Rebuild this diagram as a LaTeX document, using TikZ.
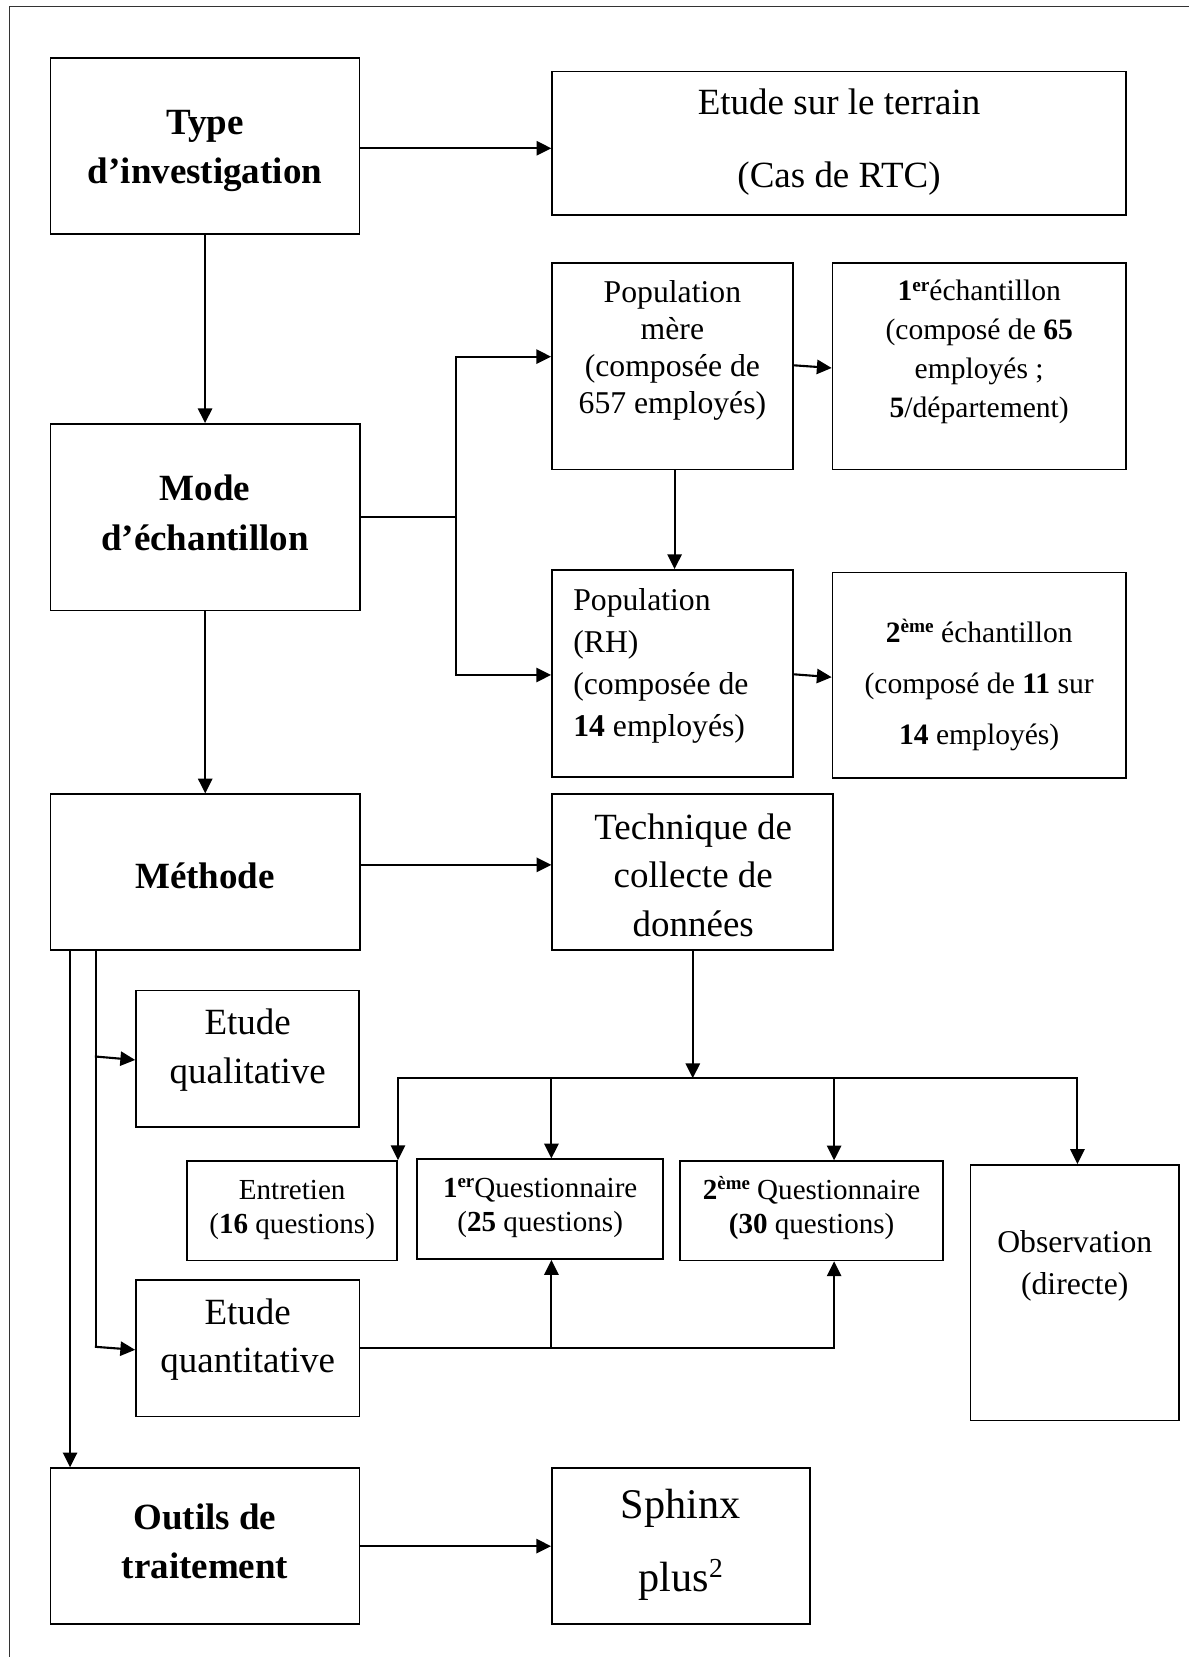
\documentclass[tikz,border=0pt]{standalone}
\usepackage{fontspec}
\usepackage{graphicx}
\setmainfont{Liberation Serif}
\usetikzlibrary{arrows.meta,fit,calc}

% line strut: 0.7em above, 0.3em below the baseline
\newcommand\st{\rule[-0.3em]{0pt}{1em}}
\newcommand\fs[2]{\fontsize{#1}{#2}\selectfont}
% raised, reduced ordinal suffix
\newcommand\upr[1]{\raisebox{0.33em}{\scalebox{0.65}{#1}}}

\begin{document}
\begin{tikzpicture}[x=1pt,y=-1pt,
  box/.style={draw, line width=1.6pt, inner sep=0pt, rectangle},
  txt/.style={inner sep=0pt, align=center, text=black},
  ln/.style={line width=2pt, line cap=rect},
  arr/.style={line width=2pt, line cap=rect, -{Triangle[length=14pt,width=13.5pt]}},
]
\useasboundingbox (0,0) rectangle (1125,1568);

% outer frame (top and left edges)
\draw[line width=1.5pt, black!80] (8.8,1568) -- (8.8,6.3) -- (1125,6.3);

% ---------- boxes ----------
\node[box, fit={(47.8,54.6) (340.3,221.7)}] (type) {};
\node[box, fit={(522.5,67.8) (1065.4,203.4)}] (terrain) {};
\node[box, fit={(47.8,401.2) (340.6,577.8)}] (mode) {};
\node[box, fit={(522.3,249.1) (750.6,444.4)}] (popm) {};
\node[box, fit={(787.8,249.1) (1065.4,444.4)}] (ech1) {};
\node[box, fit={(522.3,539.3) (750.6,735.0)}] (poprh) {};
\node[box, fit={(787.8,541.8) (1065.4,736.5)}] (ech2) {};
\node[box, fit={(47.8,751.6) (340.4,898.9)}] (meth) {};
\node[box, fit={(522.6,751.3) (788.5,898.9)}] (tech) {};
\node[box, fit={(128.7,937.3) (340.0,1066.6)}] (qual) {};
\node[box, fit={(177.2,1098.6) (375.8,1192.8)}] (entr) {};
\node[box, fit={(394.9,1097.0) (627.6,1191.5)}] (q1) {};
\node[box, fit={(643.6,1098.8) (892.3,1192.8)}] (q2) {};
\node[box, fit={(918.5,1102.3) (1115.4,1344.2)}] (obs) {};
\node[box, fit={(128.7,1211.1) (340.3,1340.4)}] (quant) {};
\node[box, fit={(47.8,1389.3) (340.3,1536.9)}] (outils) {};
\node[box, fit={(522.3,1389.3) (766.5,1536.9)}] (sphinx) {};

% ---------- texts ----------
\node[txt, font=\bfseries\fs{35}{45.7}] (typeT) at (194,143.55)
  {\st Type\\\st d’investigation};
\node[txt, font=\fs{35}{68.8}] (terrainT) at (794,136.2)
  {\st Etude sur le terrain\\\st (Cas de RTC)};
\node[txt, font=\bfseries\fs{35}{47}] (modeT) at (194,490.5)
  {\st Mode\\\st d’échantillon};
\node[txt, font=\fs{30}{35.03}] (popmT) at (636.3,332.95)
  {\st Population\\\st mère\\\st (composée de\\\st 657 employés)};
\node[txt, font=\fs{28}{36.77}] (ech1T) at (926.6,334.25)
  {\st\textbf{1}\upr{\textbf{er}}échantillon\\\st (composé de \textbf{65}\\\st employés ;\\\st\textbf{5}/département)};
\node[txt, align=left, anchor=west, font=\fs{30}{39.57}] (poprhT) at (542.3,631.45)
  {\st Population\\\st (RH)\\\st (composée de\\\st\textbf{14} employés)};
\node[txt, font=\fs{28}{48.35}] (ech2T) at (926.6,649.65)
  {\st\textbf{2}\upr{\textbf{ème}} échantillon\\\st (composé de \textbf{11} sur\\\st\textbf{14} employés)};
\node[txt, font=\bfseries\fs{35}{46}] (methT) at (194,833.5) {\st Méthode};
\node[txt, font=\fs{35}{46.05}] (techT) at (656,833.15)
  {\st Technique de\\\st collecte de\\\st données};
\node[txt, font=\fs{35}{45.7}] (qualT) at (234.4,995.15)
  {\st Etude\\\st qualitative};
\node[txt, font=\fs{27.5}{32.2}] (entrT) at (276.5,1145.4)
  {\st Entretien\\\st (\textbf{16} questions)};
\node[txt, font=\fs{27.5}{32.5}] (q1T) at (511.2,1143.65)
  {\st\textbf{1}\upr{\textbf{er}}Questionnaire\\\st (\textbf{25} questions)};
\node[txt, font=\fs{27.5}{32.5}] (q2T) at (768,1144.25)
  {\st\textbf{2}\upr{\textbf{ème}} Questionnaire\\\st\textbf{(30} questions)};
\node[txt, font=\fs{30}{39.7}] (obsT) at (1017,1199.45)
  {\st Observation\\\st (directe)};
\node[txt, font=\fs{35}{46}] (quantT) at (234.4,1269)
  {\st Etude\\\st quantitative};
\node[txt, font=\bfseries\fs{35}{46.4}] (outilsT) at (194,1463.2)
  {\st Outils de\\\st traitement};
\node[txt, font=\fs{40}{69.4}] (sphinxT) at (644.2,1463.3)
  {\st Sphinx\\\st plus\upr{2}};

% ---------- connectors ----------
% type of investigation
\coordinate (ta) at ([yshift=-2.15pt]type.east);
\draw[arr] (ta) -- (ta -| terrain.west);
\draw[arr] (type.south) -- (type.south |- mode.north);

% sampling: branch towards the two populations
\coordinate (brtop) at (431.4,337.5);
\coordinate (brbot) at (431.4,638.7);
\draw[ln] (mode.east) -- (mode.east -| brtop);
\draw[ln] (brtop) -- (brbot);
\draw[arr] (brtop) -- (brtop -| popm.west);
\draw[arr] (brbot) -- (brbot -| poprh.west);
\draw[arr] ([yshift=1.05pt]popm.east) -- ([yshift=-1.45pt]ech1.west);
\coordinate (pa) at ([xshift=1.9pt]popm.south);
\draw[arr] (pa) -- (pa |- poprh.north);
\draw[arr] ([yshift=-0.95pt]poprh.east) -- ([yshift=-1.65pt]ech2.west);
\draw[arr] (mode.south) -- (mode.south |- meth.north);

% method and data collection
\coordinate (ma) at ([yshift=6.85pt]meth.east);
\draw[arr] (ma) -- (ma -| tech.west);
\coordinate (bus) at (655.55,1020.3);
\draw[arr] (tech.south) -- (bus);
\coordinate (obsin) at ([xshift=2.6pt]obs.north);
\draw[ln] (entr.north east |- bus) -- (obsin |- bus);
\draw[arr] (entr.north east |- bus) -- (entr.north east);
\draw[arr] (tech.south west |- bus) -- (tech.south west |- q1.north);
\draw[arr] (tech.south east |- bus) -- (tech.south east |- q2.north);
\draw[arr] (obsin |- bus) -- (obsin);

% the two descending lines under the method box
\coordinate (mL) at (66.3,898.9);
\coordinate (mR) at (90.8,898.9);
\coordinate (mq) at (90.8,999.8);
\coordinate (mn) at (90.8,1274.5);
\draw[arr] (mL) -- (mL |- outils.north);
\draw[ln] (mR) -- (mn);
\draw[arr] (mq) -- ([yshift=-1.05pt]qual.west);
\draw[arr] (mn) -- ([yshift=-1.55pt]quant.west);

% quantitative study feeding both questionnaires
\draw[ln] (quant.east) -- (quant.east -| tech.south east);
\draw[arr] (quant.east -| tech.south west) -- (tech.south west |- q1.south);
\draw[arr] (quant.east -| tech.south east) -- (tech.south east |- q2.south);

% processing tools
\draw[arr] (outils.east) -- (sphinx.west);
\end{tikzpicture}
\end{document}
